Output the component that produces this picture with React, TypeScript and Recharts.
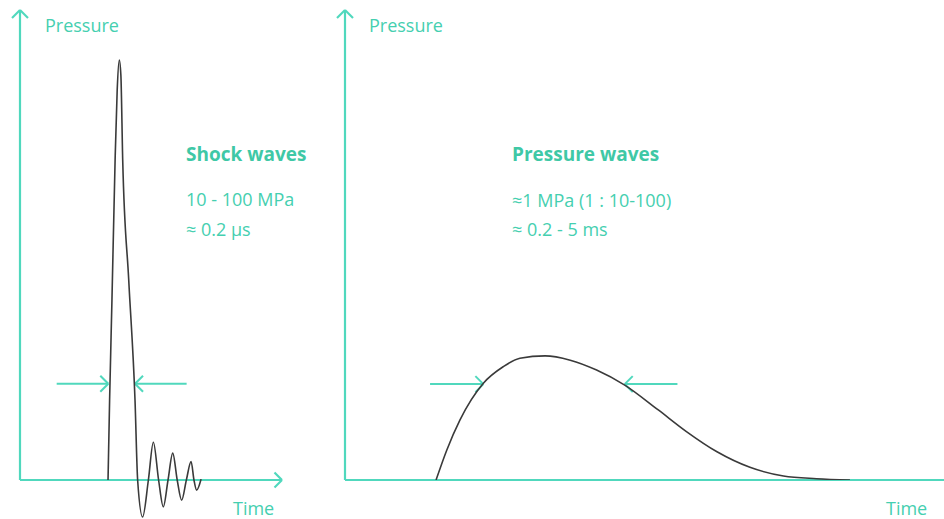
import React from "react";
import { LineChart, Line, XAxis, YAxis, ReferenceLine } from "recharts";

// shock wave trace (left panel), arbitrary time / pressure units
const shockTime = [
  33.6, 34.2, 35.1, 36.3, 37.1, 37.9, 38.5, 39.2, 41.5, 43.9, 44.9, 46.8, 49.0,
  50.9, 52.9, 54.7, 56.5, 58.3, 60.0, 61.7, 63.5, 65.3, 66.4, 67.4, 69.1,
];
const shockPressure = [
  0, 19, 42.9, 76.2, 92.9, 100, 96.4, 76.2, 47.6, 19, 0, -8.8, 0, 9, 0, -6.4, 0,
  6.4, 0, -4.8, 0, 4.4, 0, -2.4, 0.2,
];

// pressure wave trace (right panel)
const waveTime = [
  15.2, 17.0, 19.2, 23.1, 26.4, 29.2, 33.4, 37.6, 42.0, 46.7, 52.3, 57.0, 62.1,
  67.6, 73.2, 78.7, 84.3,
];
const wavePressure = [
  0, 6.4, 12.8, 20.6, 24.1, 25.9, 26.4, 25.5, 23.4, 20.2, 14.9, 10.3, 6.0, 2.7,
  0.85, 0.28, 0,
];

// width markers (pulse duration), in the same units
const shockWidth = { level: 22.9, from: 14.0, to: 33.7, back: 63.6, end: 43.9 };
const waveWidth = { level: 20.4, from: 14.2, to: 23.1, back: 55.5, end: 46.7 };

const shockData = shockTime.map((t, i) => ({ t, p: shockPressure[i] }));
const waveData = waveTime.map((t, i) => ({ t, p: wavePressure[i] }));

const TEAL = "#50d8bd";
const TEXT = "#45cfb0";
const CURVE = "#3a3a3a";
const FONT = "'Open Sans', sans-serif";

type Pt = { x: number; y: number };
type Seg = [Pt, Pt];

// chevron arrow head, sizes given in px and converted with px-per-unit
function head(tip: Pt, dir: "up" | "right" | "left", sx: number, sy: number, size = 8): Seg[] {
  const dx = size / sx;
  const dy = size / sy;
  if (dir === "up") {
    return [
      [tip, { x: tip.x - dx, y: tip.y - dy }],
      [tip, { x: tip.x + dx, y: tip.y - dy }],
    ];
  }
  const s = dir === "right" ? -1 : 1;
  return [
    [tip, { x: tip.x + s * dx, y: tip.y + dy }],
    [tip, { x: tip.x + s * dx, y: tip.y - dy }],
  ];
}

function Segs({ segs, width }: { segs: Seg[]; width: number }) {
  return (
    <>
      {segs.map((s, i) => (
        <ReferenceLine
          key={i}
          segment={s}
          stroke={TEAL}
          strokeWidth={width}
          ifOverflow="visible"
        />
      ))}
    </>
  );
}

function ShockChart() {
  // plot: x 20..282px, y 10..519px
  const sx = 262 / 100;
  const yMin = -39 / 4.2;
  const yMax = 470 / 4.2;
  const sy = 4.2;
  const w = shockWidth;
  const axes: Seg[] = [
    [{ x: 0, y: 0 }, { x: 100, y: 0 }],
    [{ x: 0, y: 0 }, { x: 0, y: yMax }],
    ...head({ x: 0, y: yMax }, "up", sx, sy),
    ...head({ x: 100, y: 0 }, "right", sx, sy, 7.5),
  ];
  const marks: Seg[] = [
    [{ x: w.from, y: w.level }, { x: w.to, y: w.level }],
    ...head({ x: w.to, y: w.level }, "right", sx, sy),
    [{ x: w.back, y: w.level }, { x: w.end, y: w.level }],
    ...head({ x: w.end, y: w.level }, "left", sx, sy),
  ];
  return (
    <LineChart
      width={300}
      height={519}
      data={shockData}
      margin={{ top: 10, right: 18, bottom: 0, left: 20 }}
    >
      <XAxis type="number" dataKey="t" domain={[0, 100]} allowDataOverflow hide />
      <YAxis type="number" domain={[yMin, yMax]} allowDataOverflow hide />
      <Segs segs={axes} width={2.2} />
      <Segs segs={marks} width={2} />
      <Line
        type="monotone"
        dataKey="p"
        stroke={CURVE}
        strokeWidth={1.6}
        dot={false}
        isAnimationActive={false}
      />
    </LineChart>
  );
}

function WaveChart() {
  // plot: x 345..944px, y 10..480px
  const sx = 5.99;
  const sy = 4.7;
  const w = waveWidth;
  const axes: Seg[] = [
    [{ x: 0, y: 0 }, { x: 100, y: 0 }],
    [{ x: 0, y: 0 }, { x: 0, y: 100 }],
    ...head({ x: 0, y: 100 }, "up", sx, sy),
  ];
  const marks: Seg[] = [
    [{ x: w.from, y: w.level }, { x: w.to, y: w.level }],
    ...head({ x: w.to, y: w.level }, "right", sx, sy),
    [{ x: w.back, y: w.level }, { x: w.end, y: w.level }],
    ...head({ x: w.end, y: w.level }, "left", sx, sy),
  ];
  return (
    <LineChart
      width={614}
      height={519}
      data={waveData}
      margin={{ top: 10, right: 0, bottom: 39, left: 15 }}
    >
      <XAxis type="number" dataKey="t" domain={[0, 100]} allowDataOverflow hide />
      <YAxis type="number" domain={[0, 100]} allowDataOverflow hide />
      <Segs segs={axes} width={2.2} />
      <Segs segs={marks} width={2} />
      <Line
        type="monotone"
        dataKey="p"
        stroke={CURVE}
        strokeWidth={1.6}
        dot={false}
        isAnimationActive={false}
      />
    </LineChart>
  );
}

export default function App() {
  const label = { fontFamily: FONT, fontSize: 18, fill: TEXT };
  const title = { fontFamily: FONT, fontSize: 19, fontWeight: 700, fill: "#3fc8a6" };
  return (
    <div
      style={{
        position: "absolute",
        left: 0,
        top: 0,
        width: 944,
        height: 519,
        background: "#fff",
        overflow: "hidden",
      }}
    >
      <div style={{ position: "absolute", left: 0, top: 0 }}>
        <ShockChart />
      </div>
      <div style={{ position: "absolute", left: 330, top: 0 }}>
        <WaveChart />
      </div>
      <svg
        width={944}
        height={519}
        style={{ position: "absolute", left: 0, top: 0, pointerEvents: "none" }}
      >
        <text x={45} y={31.5} {...label}>Pressure</text>
        <text x={233} y={515} {...label}>Time</text>
        <text x={186} y={160.5} {...title}>Shock waves</text>
        <text x={186} y={205.5} {...label}>10 - 100 MPa</text>
        <text x={186} y={236} {...label}>≈ 0.2 µs</text>

        <text x={369} y={31.5} {...label}>Pressure</text>
        <text x={886} y={515} {...label}>Time</text>
        <text x={512} y={160.5} {...title}>Pressure waves</text>
        <text x={512} y={207} {...label}>≈1 MPa (1 : 10-100)</text>
        <text x={512} y={236} {...label}>≈ 0.2 - 5 ms</text>
      </svg>
    </div>
  );
}
